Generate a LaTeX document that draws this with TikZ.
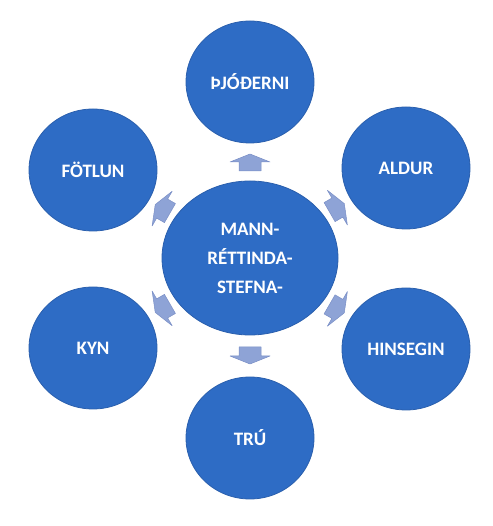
\documentclass[tikz,border=0pt]{standalone}
\usepackage{fontspec}
\setmainfont{Carlito}
\usepackage{xcolor}
\usepackage{tikz}
\usetikzlibrary{shapes,arrows,calc}
\definecolor{ringblue}{HTML}{2E6CC5}
\definecolor{ringedge}{HTML}{2A5FAD}
\definecolor{spokefill}{HTML}{8EA3D6}
\definecolor{spokeedge}{HTML}{7A8FC6}
\tikzstyle{topic} = [ellipse, draw=ringedge, line width=0.8pt, fill=ringblue, text=white, align=center, minimum width=128pt, minimum height=122pt, inner sep=0pt, font=\fontsize{19}{29}\selectfont\bfseries]
\tikzstyle{hubnode} = [topic, minimum width=176pt, minimum height=154pt]
\tikzstyle{spoke} = [draw=spokeedge, line width=0.5pt, fill=spokefill, line join=round]
\newcommand{\spokeshape}{(-9pt,-11pt) -- (0pt,-11pt) -- (0pt,-20pt) -- (8pt,0pt) -- (0pt,20pt) -- (0pt,11pt) -- (-9pt,11pt) -- cycle}

\begin{document}
\begin{tikzpicture}
\useasboundingbox (0,0) rectangle (492pt,526pt);
\node [hubnode] (hub) at (250pt,268pt) {MANN-\\RÉTTINDA-\\STEFNA-};
\node [topic] (nat) at (250pt,444pt) {ÞJÓÐERNI};
\node [topic] (ald) at (406pt,358pt) {ALDUR};
\node [topic] (hin) at (406pt,177pt) {HINSEGIN};
\node [topic] (tru) at (250pt,88pt) {TRÚ};
\node [topic] (kyn) at (93pt,178pt) {KYN};
\node [topic] (fot) at (93pt,356pt) {FÖTLUN};
% block arrows half way between the hub and each ring
\coordinate (to-nat) at ($(hub.90)!0.5!(nat.270)$);
\coordinate (to-ald) at ($(hub.30)!0.5!(ald.210)$);
\coordinate (to-hin) at ($(hub.-30)!0.5!(hin.150)$);
\coordinate (to-tru) at ($(hub.270)!0.5!(tru.90)$);
\coordinate (to-kyn) at ($(hub.210)!0.5!(kyn.30)$);
\coordinate (to-fot) at ($(hub.150)!0.5!(fot.330)$);
\draw [spoke, shift={(to-nat)}, rotate=90] \spokeshape;
\draw [spoke, shift={(to-ald)}, rotate=30] \spokeshape;
\draw [spoke, shift={(to-hin)}, rotate=-30] \spokeshape;
\draw [spoke, shift={(to-tru)}, rotate=-90] \spokeshape;
\draw [spoke, shift={(to-kyn)}, rotate=210] \spokeshape;
\draw [spoke, shift={(to-fot)}, rotate=150] \spokeshape;
\end{tikzpicture}
\end{document}
